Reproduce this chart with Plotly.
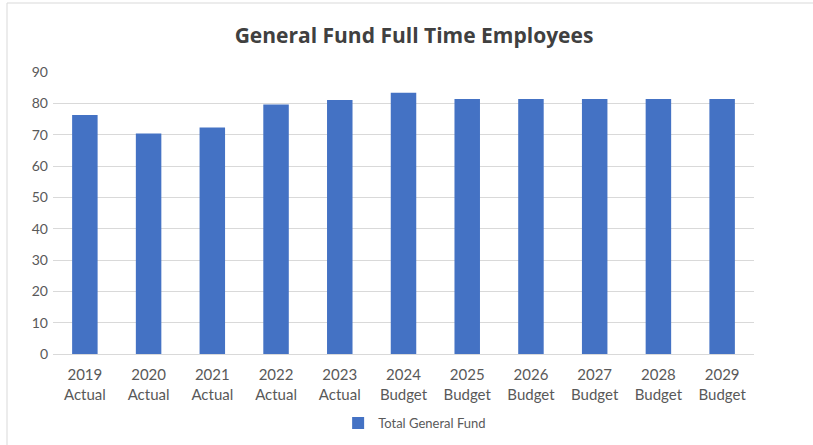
import plotly.graph_objects as go

years = ["2019", "2020", "2021", "2022", "2023", "2024", "2025", "2026", "2027", "2028", "2029"]
kinds = ["Actual", "Actual", "Actual", "Actual", "Actual", "Budget", "Budget", "Budget", "Budget", "Budget", "Budget"]
values = [76.3, 70.4, 72.3, 79.6, 81.1, 83.4, 81.4, 81.4, 81.4, 81.4, 81.4]
categories = [f"{y}<br>{k}" for y, k in zip(years, kinds)]

fig = go.Figure()
fig.add_trace(go.Bar(
    x=categories, y=values, name="Total General Fund",
    marker=dict(color="#4472C4", line=dict(width=0)),
))

fig.update_layout(
    width=813, height=445,
    margin=dict(l=53, r=59, t=72, b=91, autoexpand=False),
    paper_bgcolor="white", plot_bgcolor="white",
    font=dict(family="Lato, Open Sans, sans-serif", size=14, color="#595959"),
    title=dict(text="<b>General Fund Full Time Employees</b>", x=0.515, xref="paper", y=0.92, yanchor="middle",
               font=dict(size=21, color="#404040", family="Open Sans, sans-serif")),
    bargap=0.6,
    showlegend=True,
    legend=dict(orientation="h", x=0.51, xanchor="center", xref="container",
                y=(445 - 423) / 445, yanchor="middle", yref="container",
                font=dict(size=13, color="#595959"), itemwidth=30),
    xaxis=dict(showgrid=False, showline=True, linecolor="#d9d9d9", linewidth=1, ticks="",
               tickfont=dict(size=15), ticklabelstandoff=7),
    yaxis=dict(range=[0, 90], dtick=10, showgrid=True, gridcolor="#d9d9d9", gridwidth=1,
               zeroline=False, ticks="", ticklen=0, tickfont=dict(size=14), ticklabelstandoff=4),
)
fig.add_shape(type="rect", xref="paper", yref="paper", x0=(7 - 53) / 701, x1=1.3, y0=-0.6, y1=(354 - 3) / 282,
              line=dict(color="#d9d9d9", width=1), fillcolor="rgba(0,0,0,0)", layer="below")

fig.write_html("out.html")
